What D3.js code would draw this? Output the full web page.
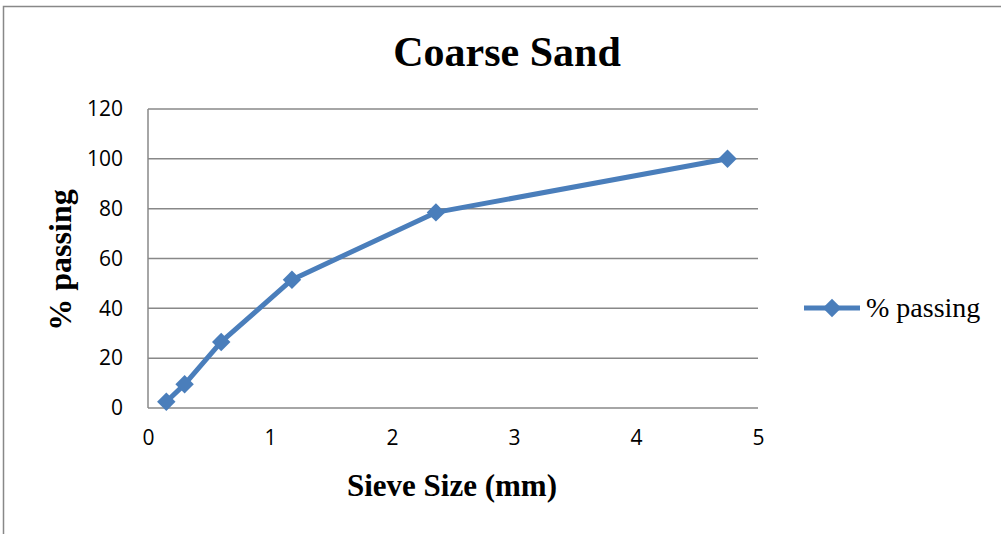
<!DOCTYPE html>
<html>
<head>
<meta charset="utf-8">
<script src="https://cdn.jsdelivr.net/npm/d3@7"></script>
<style>
	body { margin: 0; background: #fff; }
	svg { display: block; }
</style>
</head>
<body>
<script>
// sieve analysis - coarse sand
const sieveSizes = [0.15, 0.3, 0.6, 1.18, 2.36, 4.75];
const percentPassing = [2.5, 9.5, 26.5, 51.5, 78.5, 100];
const xTicks = [0, 1, 2, 3, 4, 5];
const yTicks = [0, 20, 40, 60, 80, 100, 120];
const seriesName = '% passing';

const W = 1001, H = 534;
const margin = { top: 109, right: 243, bottom: 126, left: 148 },
	width = W - margin.left - margin.right,
	height = H - margin.top - margin.bottom;
const blue = '#4a7ebb', grid = '#888';

let svg = d3.select('body').append('svg')
	.attr('width', W)
	.attr('height', H);

// outer frame
svg.append('rect')
	.attr('x', 3.5).attr('y', 6.5)
	.attr('width', W + 10).attr('height', H + 10)
	.attr('fill', 'none').attr('stroke', grid).attr('stroke-width', 1.5);

let x = d3.scaleLinear().domain([0, 5]).range([0, width]);
let y = d3.scaleLinear().domain([0, 120]).range([height, 0]);

let g = svg.append('g')
	.attr('transform', 'translate(' + margin.left + ',' + margin.top + ')');

// horizontal gridlines
g.selectAll('line.grid')
	.data(yTicks)
	.enter().append('line')
	.attr('class', 'grid')
	.attr('x1', 0).attr('x2', width)
	.attr('y1', d => y(d)).attr('y2', d => y(d))
	.attr('stroke', grid).attr('stroke-width', 1.5);

// left axis line
g.append('line')
	.attr('x1', 0).attr('x2', 0)
	.attr('y1', 0).attr('y2', height)
	.attr('stroke', grid).attr('stroke-width', 1.5);

// y tick labels
let yAxis = g.append('g')
	.call(d3.axisLeft(y).tickValues(yTicks).tickSize(0).tickPadding(25).tickFormat(d3.format('d')));
yAxis.select('.domain').remove();
yAxis.selectAll('text')
	.attr('font-family', 'Open Sans, sans-serif')
	.attr('font-size', '21px')
	.attr('fill', '#000');

// x tick labels
let xAxis = g.append('g')
	.attr('transform', 'translate(0,' + height + ')')
	.call(d3.axisBottom(x).tickValues(xTicks).tickSize(0).tickPadding(22).tickFormat(d3.format('d')));
xAxis.select('.domain').remove();
xAxis.selectAll('text')
	.attr('font-family', 'Open Sans, sans-serif')
	.attr('font-size', '21px')
	.attr('fill', '#000');

let data = sieveSizes.map((s, i) => ({ s: s, p: percentPassing[i] }));

let line = d3.line()
	.x(d => x(d.s))
	.y(d => y(d.p));

g.append('path')
	.datum(data)
	.attr('d', line)
	.attr('fill', 'none')
	.attr('stroke', blue)
	.attr('stroke-width', 5)
	.attr('stroke-linejoin', 'round');

let diamond = d3.symbol().type(d3.symbolSquare).size(170);

g.selectAll('path.pt')
	.data(data)
	.enter().append('path')
	.attr('class', 'pt')
	.attr('d', diamond)
	.attr('fill', blue)
	.attr('transform', d => 'translate(' + x(d.s) + ',' + y(d.p) + ') rotate(45)');

// title
svg.append('text')
	.attr('x', 507).attr('y', 66)
	.attr('text-anchor', 'middle')
	.attr('font-family', 'Liberation Serif, Times New Roman, serif')
	.attr('font-weight', 'bold')
	.attr('font-size', '42px')
	.text('Coarse Sand');

// axis titles
svg.append('text')
	.attr('x', 452).attr('y', 496)
	.attr('text-anchor', 'middle')
	.attr('font-family', 'Liberation Serif, Times New Roman, serif')
	.attr('font-weight', 'bold')
	.attr('font-size', '31px')
	.text('Sieve Size (mm)');

svg.append('text')
	.attr('transform', 'translate(71,260) rotate(-90)')
	.attr('text-anchor', 'middle')
	.attr('font-family', 'Liberation Serif, Times New Roman, serif')
	.attr('font-weight', 'bold')
	.attr('font-size', '32px')
	.text('% passing');

// legend
let legend = svg.append('g').attr('transform', 'translate(804,308)');
legend.append('line')
	.attr('x1', 0).attr('x2', 56)
	.attr('y1', 0).attr('y2', 0)
	.attr('stroke', blue).attr('stroke-width', 5);
legend.append('path')
	.attr('d', diamond)
	.attr('fill', blue)
	.attr('transform', 'translate(28,0) rotate(45)');
legend.append('text')
	.attr('x', 62).attr('y', 9)
	.attr('font-family', 'Liberation Serif, Times New Roman, serif')
	.attr('font-size', '28px')
	.text(seriesName);
</script>
</body>
</html>
